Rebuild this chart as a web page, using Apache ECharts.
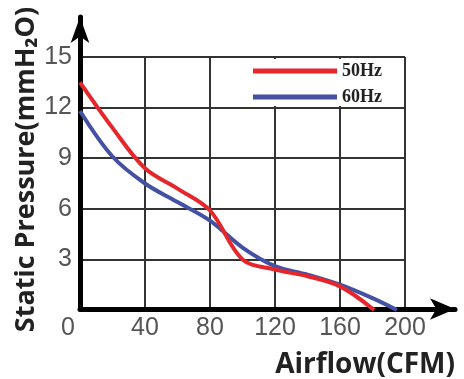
<!DOCTYPE html>
<html>
<head>
<meta charset="utf-8">
<script src="https://cdn.jsdelivr.net/npm/echarts@6/dist/echarts.min.js"></script>
<style>
  html, body { margin: 0; padding: 0; background: #fff; }
  #chart { width: 464px; height: 379px; }
</style>
</head>
<body>
<div id="chart"></div>
<script>
// values
var seriesNames = ['50Hz', '60Hz'];
var airflow50 = [0, 20, 40, 60, 80, 100, 120, 140, 160, 181];
var pressure50 = [13.5, 10.8, 8.4, 7.2, 5.9, 3.0, 2.4, 2.0, 1.4, 0];
var airflow60 = [0, 20, 40, 60, 80, 100, 120, 140, 160, 180, 195];
var pressure60 = [11.8, 9.1, 7.5, 6.4, 5.3, 3.7, 2.6, 2.1, 1.5, 0.7, 0];
var xTicks = [0, 40, 80, 120, 160, 200];
var yTicks = [0, 3, 6, 9, 12, 15];

var tickFont = '"Liberation Sans Narrow", "Liberation Sans", sans-serif';
var titleFont = '"Open Sans", sans-serif';

function pairs(xs, ys) {
    var out = [];
    for (var i = 0; i < xs.length; i++) {
        out.push([xs[i], ys[i]]);
    }
    return out;
}

var myChart = echarts.init(document.getElementById('chart'));

var option = {
    backgroundColor: '#fff',
    animation: false,
    color: ['#e5262b', '#4451a3'],
    legend: {
        data: seriesNames,
        orient: 'vertical',
        left: 249,
        top: 59,
        padding: [3, 16, 0, 4],
        itemGap: 8,
        itemWidth: 84,
        itemHeight: 5,
        icon: 'rect',
        backgroundColor: '#fff',
        selectedMode: false,
        textStyle: {
            fontFamily: '"Liberation Serif", serif',
            fontWeight: 'bold',
            fontSize: 18,
            color: '#222'
        }
    },
    grid: [
        // data grid
        { left: 80, right: 59, top: 57, bottom: 69 },
        // grid only used for the arrowed axes and the axis names
        { left: 80, right: 9, top: 17, bottom: 69 }
    ],
    xAxis: [{
        gridIndex: 0,
        type: 'value',
        min: xTicks[0],
        max: xTicks[xTicks.length - 1],
        interval: 40,
        axisLine: { show: false },
        axisTick: { show: false },
        splitLine: { show: true, lineStyle: { color: '#333', width: 2 } },
        axisLabel: {
            margin: 6,
            fontFamily: tickFont,
            fontSize: 25,
            color: '#555',
            formatter: function (v) {
                return v === 0 ? '{z|0}' : String(v);
            },
            rich: {
                z: { padding: [0, 24, 0, 0], fontFamily: tickFont, fontSize: 25, color: '#555' }
            }
        }
    }, {
        gridIndex: 1,
        type: 'value',
        min: 0,
        max: 1,
        axisLine: {
            show: true,
            onZero: false,
            symbol: ['none', 'arrow'],
            symbolSize: [16, 25],
            lineStyle: { color: '#000', width: 5 }
        },
        axisTick: { show: false },
        axisLabel: { show: false },
        splitLine: { show: false },
        name: '{t|Airflow(CFM)}',
        nameLocation: 'end',
        nameGap: 0,
        nameTextStyle: {
            align: 'right',
            verticalAlign: 'top',
            rich: {
                t: {
                    fontFamily: titleFont,
                    fontWeight: 'bold',
                    fontSize: 28,
                    color: '#222',
                    padding: [42, 0, 0, 0]
                }
            }
        }
    }],
    yAxis: [{
        gridIndex: 0,
        type: 'value',
        min: yTicks[0],
        max: yTicks[yTicks.length - 1],
        interval: 3,
        axisLine: { show: false },
        axisTick: { show: false },
        splitLine: { show: true, lineStyle: { color: '#333', width: 2 } },
        axisLabel: {
            margin: 8,
            showMinLabel: false,
            fontFamily: tickFont,
            fontSize: 25,
            color: '#555'
        }
    }, {
        gridIndex: 1,
        type: 'value',
        min: 0,
        max: 1,
        axisLine: {
            show: true,
            onZero: false,
            symbol: ['none', 'arrow'],
            symbolSize: [14, 26],
            lineStyle: { color: '#000', width: 5 }
        },
        axisTick: { show: false },
        axisLabel: { show: false },
        splitLine: { show: false },
        name: '{t|Static Pressure(mmH₂O)}',
        nameLocation: 'middle',
        nameGap: 40,
        nameTextStyle: {
            rich: {
                t: {
                    fontFamily: titleFont,
                    fontWeight: 'bold',
                    fontSize: 27,
                    color: '#222',
                    padding: [0, 13, 0, 0]
                }
            }
        }
    }],
    series: [{
        name: seriesNames[0],
        type: 'line',
        xAxisIndex: 0,
        yAxisIndex: 0,
        data: pairs(airflow50, pressure50),
        smooth: 0.35,
        showSymbol: false,
        z: 3,
        lineStyle: { width: 4 }
    }, {
        name: seriesNames[1],
        type: 'line',
        xAxisIndex: 0,
        yAxisIndex: 0,
        data: pairs(airflow60, pressure60),
        smooth: 0.35,
        showSymbol: false,
        z: 2,
        lineStyle: { width: 4 }
    }]
};

myChart.setOption(option);
</script>
</body>
</html>
